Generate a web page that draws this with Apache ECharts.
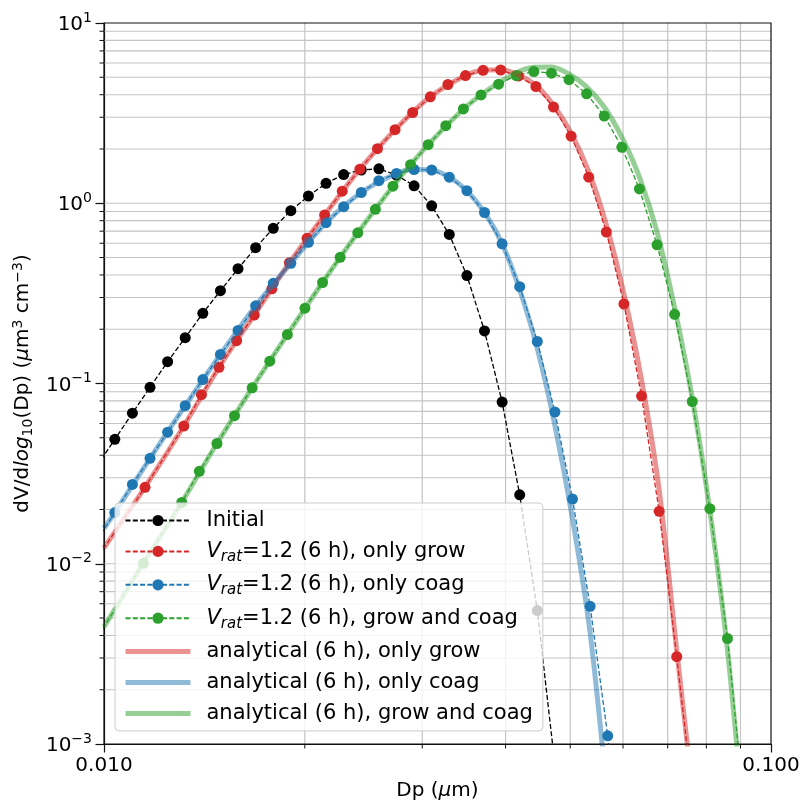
<!DOCTYPE html>
<html><head><meta charset="utf-8">
<script src="https://cdn.jsdelivr.net/npm/echarts@6/dist/echarts.min.js"></script>
<style>html,body{margin:0;padding:0;background:#fff}#c{width:801px;height:801px}</style>
</head><body><div id="c"></div>
<script>
const FONT = 'DejaVu Sans';
// ---- data (Dp in µm, dV/dlog10Dp in µm3 cm-3) ----
const dpInitial = [0.009768,0.010380,0.011030,0.011722,0.012456,0.013236,0.014066,0.014947,0.015883,0.016880,0.017937,0.019060,0.020255,0.021524,0.022872,0.024306,0.025829,0.027447,0.029167,0.030995,0.032936,0.035000,0.037194,0.039524,0.042001,0.044632,0.047428];
const vInitial = [0.0351,0.0490,0.0684,0.0953,0.1321,0.1795,0.2452,0.3272,0.4335,0.5668,0.7261,0.9092,1.097,1.290,1.443,1.529,1.553,1.434,1.250,0.968,0.671,0.397,0.1956,0.0789,0.02413,0.0055,0.000765];

const dpGrow = [0.009694,0.011522,0.013172,0.013998,0.014875,0.015806,0.016799,0.017851,0.018968,0.020157,0.021420,0.022762,0.024189,0.025705,0.027315,0.029026,0.030846,0.032777,0.034831,0.037015,0.039334,0.041799,0.044417,0.047199,0.050158,0.053301,0.056640,0.060190,0.063961,0.067968,0.072227,0.076753];
const vGrow = [0.01032,0.02655,0.05808,0.08666,0.1230,0.1728,0.2399,0.3352,0.4680,0.6390,0.8605,1.1667,1.545,2.007,2.559,3.188,3.896,4.558,5.112,5.465,5.486,5.082,4.443,3.420,2.355,1.395,0.6926,0.2761,0.0852,0.01954,0.00305,0.00043];

const dpCoag = [0.009768,0.010380,0.011030,0.011722,0.012456,0.013236,0.014066,0.014947,0.015883,0.016880,0.017937,0.019060,0.020255,0.021524,0.022872,0.024306,0.025829,0.027447,0.029167,0.030995,0.032936,0.035000,0.037194,0.039524,0.042001,0.044632,0.047428,0.050401,0.053559,0.056914,0.060481];
const vCoag = [0.01355,0.01924,0.02753,0.03846,0.05367,0.07529,0.1052,0.1449,0.1968,0.2699,0.3597,0.4644,0.6072,0.7800,0.9570,1.147,1.334,1.463,1.539,1.529,1.395,1.174,0.8885,0.5957,0.3444,0.1710,0.06948,0.02286,0.005805,0.001110,0.00014];

const dpBoth = [0.009694,0.011453,0.013077,0.013897,0.014767,0.015692,0.016677,0.017722,0.018831,0.020012,0.021266,0.022597,0.024014,0.025519,0.027117,0.028817,0.030623,0.032540,0.034580,0.036747,0.039049,0.041497,0.044096,0.046858,0.049796,0.052916,0.056231,0.059755,0.063499,0.067477,0.071706,0.076199,0.080972,0.086048,0.091438];
const vBoth = [0.003704,0.01006,0.02187,0.03257,0.04646,0.06628,0.09467,0.1330,0.1869,0.2617,0.3634,0.5013,0.6856,0.9256,1.243,1.636,2.113,2.693,3.334,3.988,4.576,5.112,5.382,5.267,4.848,4.049,3.048,2.044,1.200,0.5883,0.2420,0.07946,0.02020,0.003849,0.00040];

const anaGrowDp = [0.01,0.011522,0.013172,0.014875,0.016799,0.018968,0.021420,0.024189,0.027315,0.030846,0.034831,0.037015,0.039334,0.041799,0.044417,0.047199,0.050158,0.053301,0.056640,0.060190,0.063961,0.067968,0.072227,0.076753];
const anaGrowV = [0.01224,0.0266,0.0581,0.1230,0.2399,0.4680,0.8605,1.545,2.559,3.896,5.112,5.465,5.50,5.15,4.50,3.50,2.45,1.50,0.76,0.313,0.105,0.0258,0.0033,0.00045];

const anaCoagDp = [0.01,0.010380,0.011722,0.013236,0.014947,0.016880,0.019060,0.021524,0.024306,0.027447,0.029167,0.030995,0.032936,0.035000,0.037194,0.039524,0.042001,0.044632,0.047428,0.050401,0.053559,0.056914];
const anaCoagV = [0.01573,0.01924,0.03846,0.07529,0.1449,0.2699,0.4644,0.7800,1.147,1.463,1.539,1.529,1.395,1.174,0.8885,0.5957,0.331,0.156,0.0585,0.01772,0.00413,0.00048];

const anaBothDp = [0.01,0.011453,0.013077,0.014767,0.016677,0.018831,0.021266,0.024014,0.027117,0.030623,0.034580,0.036747,0.039049,0.041497,0.044096,0.046858,0.049796,0.052916,0.056231,0.059755,0.063499,0.067477,0.071706,0.076199,0.080972,0.086048,0.091438];
const anaBothV = [0.004475,0.01006,0.02187,0.04646,0.09467,0.1869,0.3634,0.6856,1.243,2.113,3.334,3.988,4.65,5.30,5.68,5.70,5.21,4.42,3.42,2.33,1.398,0.693,0.2624,0.0831,0.0197,0.00332,0.0003];

const xMinorTicks = [0.02,0.03,0.04,0.05,0.06,0.07,0.08,0.09];
const yMajorInner = [0.01,0.1,1];
const yMinorTicks = [];
[0.001,0.01,0.1,1].forEach(d => { for (let k = 2; k <= 9; k++) yMinorTicks.push(+(d*k).toPrecision(3)); });

const names = ['Initial','Vrat=1.2 (6 h), only grow','Vrat=1.2 (6 h), only coag','Vrat=1.2 (6 h), grow and coag','analytical (6 h), only grow','analytical (6 h), only coag','analytical (6 h), grow and coag'];

const zip = (a, b) => a.map((v, i) => [v, b[i]]);
const RED = '#d62728', BLUE = '#1f77b4', GREEN = '#2ca02c';

function simSeries(name, dp, v, color) {
  return {
    name, type: 'line', data: zip(dp, v), clip: true,
    symbol: 'circle', symbolSize: 11, showAllSymbol: true,
    itemStyle: { color },
    lineStyle: { color, width: 1.3, type: [5, 2.3] },
    emphasis: { disabled: true }, z: 3
  };
}
function anaSeries(name, dp, v, color) {
  return {
    name, type: 'line', data: zip(dp, v), clip: true, symbol: 'none', smooth: 0.3,
    itemStyle: { color },
    lineStyle: { color, width: 5 },
    emphasis: { disabled: true }, z: 4
  };
}

const legendData = names.map((n, i) => i < 4 ? { name: n } : { name: n, itemStyle: { opacity: 0 }, lineStyle: { width: 5 } });

const option = {
  animation: false,
  backgroundColor: '#fff',
  textStyle: { fontFamily: FONT },
  grid: { left: 104, right: 30, top: 23, bottom: 57, containLabel: false, outerBoundsMode: 'none', show: true, borderColor: '#111', borderWidth: 1.2, backgroundColor: 'transparent', z: 5 },
  xAxis: {
    type: 'log', logBase: 10, min: 0.01, max: 0.1,
    name: 'Dp ({i|μ}m)', nameLocation: 'middle', nameGap: 37,
    nameTextStyle: { fontSize: 20, color: '#000', fontFamily: FONT, rich: { i: { fontSize: 20, fontStyle: 'italic', fontFamily: FONT } } },
    axisLine: { show: true, lineStyle: { color: '#111', width: 1.2 } },
    axisTick: { show: true, length: 8.5, lineStyle: { color: '#111', width: 1.2 } },
    axisLabel: { fontSize: 20, color: '#000', fontFamily: FONT, margin: 12, showMinLabel: true, showMaxLabel: true, formatter: v => v.toFixed(3) },
    splitLine: { show: false }, minorTick: { show: false }
  },
  yAxis: {
    type: 'log', logBase: 10, min: 0.001, max: 10,
    name: '{n|dV/d}{i|log}{sub|10}{n|(Dp) (}{i|μ}{n|m}{sup|3}{n| cm}{sup|−3}{n|)}',
    nameLocation: 'middle', nameRotate: 90, nameGap: 68,
    nameTextStyle: { color: '#000', fontFamily: FONT, fontSize: 20, rich: {
      n: { fontSize: 20, lineHeight: 24, fontFamily: FONT, verticalAlign: 'middle' },
      i: { fontSize: 20, lineHeight: 24, fontStyle: 'italic', fontFamily: FONT, verticalAlign: 'middle' },
      sub: { fontSize: 14, lineHeight: 14, fontFamily: FONT, verticalAlign: 'bottom' },
      sup: { fontSize: 14, lineHeight: 14, fontFamily: FONT, verticalAlign: 'top' }
    } },
    axisLine: { show: true, lineStyle: { color: '#111', width: 1.2 } },
    axisTick: { show: true, length: 8.5, lineStyle: { color: '#111', width: 1.2 } },
    axisLabel: {
      color: '#000', fontFamily: FONT, margin: 12,
      formatter: v => { const e = Math.round(Math.log10(v)); return '{b|10}{s|' + (e < 0 ? '\u2212' + (-e) : e) + '}'; },
      rich: {
        b: { fontSize: 20, lineHeight: 24, fontFamily: FONT, color: '#000', verticalAlign: 'bottom' },
        s: { fontSize: 14, lineHeight: 15, fontFamily: FONT, color: '#000', verticalAlign: 'top' }
      }
    },
    splitLine: { show: false }, minorTick: { show: false }
  },
  legend: {
    orient: 'vertical', left: 115, top: 503,
    padding: [7, 10, 7, 8], itemGap: 9.9, itemWidth: 65, itemHeight: 14,
    backgroundColor: 'rgba(255,255,255,0.8)', borderColor: '#cccccc', borderWidth: 1, borderRadius: 4,
    data: legendData,
    formatter: n => n.startsWith('Vrat') ? '{i|V}{sub|rat}{t|' + n.slice(4) + '}' : '{t|' + n + '}',
    textStyle: { fontFamily: FONT, fontSize: 21, color: '#000', padding: [0, 0, 0, 11], rich: {
      t: { fontSize: 21, lineHeight: 26, fontFamily: FONT, color: '#000' },
      i: { fontSize: 21, lineHeight: 26, fontStyle: 'italic', fontFamily: FONT, color: '#000' },
      sub: { fontSize: 15, lineHeight: 15, fontStyle: 'italic', fontFamily: FONT, color: '#000', verticalAlign: 'bottom' }
    } },
    z: 10
  },
  series: [
    simSeries(names[0], dpInitial, vInitial, '#000000'),
    simSeries(names[1], dpGrow, vGrow, RED),
    simSeries(names[2], dpCoag, vCoag, BLUE),
    simSeries(names[3], dpBoth, vBoth, GREEN),
    anaSeries(names[4], anaGrowDp, anaGrowV, 'rgba(214,39,40,0.5)'),
    anaSeries(names[5], anaCoagDp, anaCoagV, 'rgba(31,119,180,0.5)'),
    anaSeries(names[6], anaBothDp, anaBothV, 'rgba(44,160,44,0.5)')
  ]
};

const chart = echarts.init(document.getElementById('c'), null, { renderer: 'canvas' });
chart.setOption(option);

// grid lines + minor ticks positioned through the chart's own log scales
const GRID = '#c4c4c4';
const pL = chart.convertToPixel({ gridIndex: 0 }, [0.01, 0.001]);
const pR = chart.convertToPixel({ gridIndex: 0 }, [0.1, 10]);
const xl = pL[0], yb = pL[1], xr = pR[0], yt = pR[1];
const els = [];
xMinorTicks.forEach(v => {
  const x = chart.convertToPixel({ xAxisIndex: 0 }, v);
  els.push({ type: 'line', silent: true, z: 1, shape: { x1: x, y1: yt, x2: x, y2: yb }, style: { stroke: GRID, lineWidth: 1.2 } });
  els.push({ type: 'line', silent: true, z: 6, shape: { x1: x, y1: yb, x2: x, y2: yb + 4.5 }, style: { stroke: '#111', lineWidth: 1 } });
});
yMajorInner.forEach(v => {
  const y = chart.convertToPixel({ yAxisIndex: 0 }, v);
  els.push({ type: 'line', silent: true, z: 1, shape: { x1: xl, y1: y, x2: xr, y2: y }, style: { stroke: GRID, lineWidth: 1.2 } });
});
yMinorTicks.forEach(v => {
  const y = chart.convertToPixel({ yAxisIndex: 0 }, v);
  els.push({ type: 'line', silent: true, z: 1, shape: { x1: xl, y1: y, x2: xr, y2: y }, style: { stroke: GRID, lineWidth: 1.2 } });
  els.push({ type: 'line', silent: true, z: 6, shape: { x1: xl - 4.5, y1: y, x2: xl, y2: y }, style: { stroke: '#111', lineWidth: 1 } });
});
chart.setOption({ graphic: { elements: els } });
</script>
</body></html>
